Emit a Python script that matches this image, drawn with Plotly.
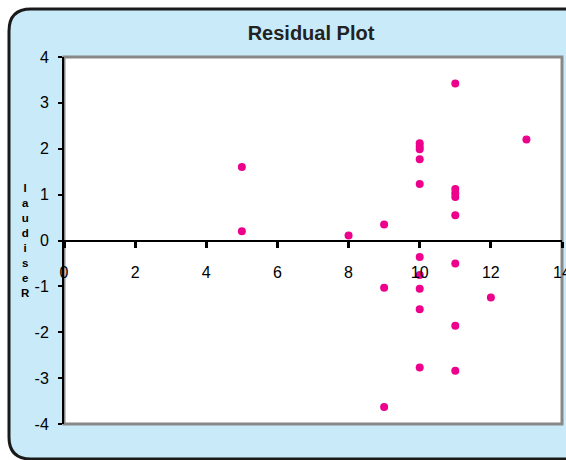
import plotly.graph_objects as go

x_vals = [5, 5, 8, 9, 9, 9, 10, 10, 10, 10, 10, 10, 10, 10, 10, 10, 11, 11, 11, 11, 11, 11, 11, 11, 12, 13]
residuals = [1.60, 0.20, 0.11, 0.35, -1.03, -3.63,
             2.12, 2.05, 1.99, 1.77, 1.23, -0.36, -0.75, -1.05, -1.50, -2.77,
             3.42, 1.12, 1.03, 0.95, 0.55, -0.50, -1.86, -2.84,
             -1.24, 2.20]
x_ticks = [0, 2, 4, 6, 8, 10, 12, 14]
y_ticks = [-4, -3, -2, -1, 0, 1, 2, 3, 4]
y_title = "Residual"

W, H = 566, 460
L, R, T, B = 64, 4, 57, 36
pw, ph = W - L - R, H - T - B

def fx(px):
    return (px - L) / pw

def fy(py):
    return (H - B - py) / ph

fig = go.Figure()
fig.add_trace(go.Scatter(x=x_vals, y=residuals, mode="markers",
                         marker=dict(color="#EC008C", size=8, symbol="circle"),
                         showlegend=False, cliponaxis=False))

# rounded chart frame
x0, y0, x1, y1, r = 9, 9, 600, 459, 22
path = (f"M {fx(x0)},{fy(y0 + r)} Q {fx(x0)},{fy(y0)} {fx(x0 + r)},{fy(y0)} "
        f"L {fx(x1 - r)},{fy(y0)} Q {fx(x1)},{fy(y0)} {fx(x1)},{fy(y0 + r)} "
        f"L {fx(x1)},{fy(y1 - r)} Q {fx(x1)},{fy(y1)} {fx(x1 - r)},{fy(y1)} "
        f"L {fx(x0 + r)},{fy(y1)} Q {fx(x0)},{fy(y1)} {fx(x0)},{fy(y1 - r)} Z")
fig.add_shape(type="path", path=path, xref="paper", yref="paper",
              fillcolor="#C8EAF9", line=dict(color="#1a1a1a", width=3), layer="below")
fig.add_shape(type="rect", x0=0, x1=1, y0=0, y1=1, xref="paper", yref="paper",
              fillcolor="white", line=dict(color="#888888", width=3), layer="below")

# stacked, reversed vertical axis title
fig.add_annotation(text="<br>".join(reversed(y_title)), xref="paper", yref="paper",
                   x=fx(25), y=fy(240), xanchor="center", yanchor="middle", showarrow=False,
                   font=dict(family="Liberation Sans, Arial", size=11.5, color="black", weight="bold"))

tickfont = dict(family="Liberation Sans, Arial", size=16, color="black")
fig.update_layout(
    width=W, height=H,
    margin=dict(l=L, r=R, t=T, b=B, autoexpand=False),
    paper_bgcolor="white", plot_bgcolor="rgba(0,0,0,0)",
    title=dict(text="<b>Residual Plot</b>", x=311 / W, xanchor="center", y=1 - 33 / H, yanchor="middle",
               font=dict(family="Liberation Sans, Arial", size=20, color="#222222")),
    font=dict(family="Liberation Sans, Arial", size=14, color="black"),
    xaxis=dict(range=[0, 14], tickvals=x_ticks, ticktext=[str(v) for v in x_ticks],
               tickfont=tickfont, ticklabeloverflow="allow", automargin=False,
               showgrid=False, zeroline=False,
               showline=True, linecolor="black", linewidth=2,
               ticks="outside", ticklen=6, tickwidth=3, tickcolor="black",
               ticklabelstandoff=11, anchor="free", position=0.5),
    yaxis=dict(range=[-4, 4], tickvals=y_ticks, ticktext=[str(v) for v in y_ticks],
               tickfont=tickfont, ticklabeloverflow="allow", automargin=False,
               showgrid=False, zeroline=False,
               showline=True, linecolor="black", linewidth=2,
               ticks="outside", ticklen=4, tickwidth=2, tickcolor="black",
               ticklabelstandoff=6),
)

fig.write_html("out.html", config={"displayModeBar": False},
               post_script="document.body.style.margin='0px';")
